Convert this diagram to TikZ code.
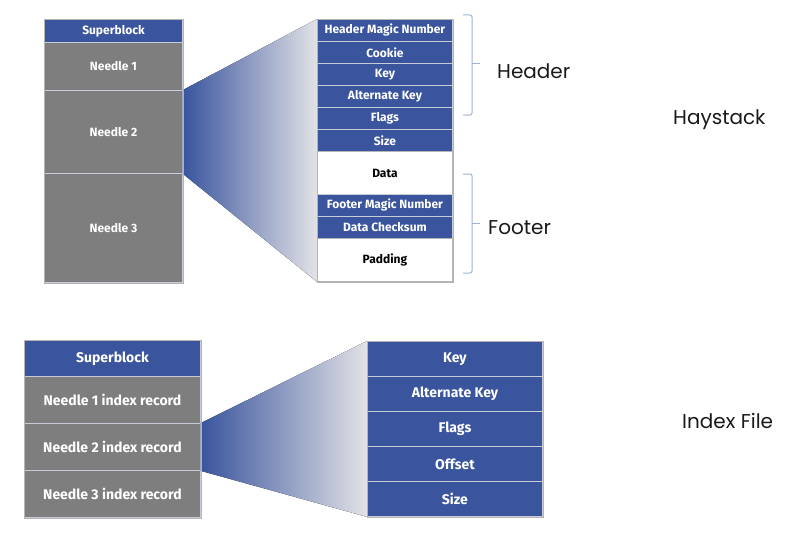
\documentclass[tikz,border=0pt]{standalone}
\usepackage{fontspec}
\setmainfont{Fira Sans}
\newfontfamily\labelfont{Poppins}
\definecolor{hsblue}{HTML}{3A559E}
\definecolor{hsgray}{HTML}{7E7E7E}
\definecolor{hsborder}{HTML}{B4B4B4}
\definecolor{hsdiv}{HTML}{C8CCD8}
\definecolor{fanlight}{HTML}{E2E2E6}
\definecolor{bracecol}{HTML}{9FB3CF}
\definecolor{labelcol}{HTML}{1A1A1A}
\tikzset{
  cellbase/.style={anchor=north west, inner sep=0pt, draw=hsdiv, line width=0.9pt, align=center},
  bluecell/.style={cellbase, fill=hsblue, text=white, font=\bfseries\fontsize{12}{14}\selectfont},
  graycell/.style={cellbase, fill=hsgray, text=white, font=\bfseries\fontsize{12}{14}\selectfont},
  whitecell/.style={cellbase, fill=white, draw=hsborder, text=black, font=\bfseries\fontsize{12}{14}\selectfont},
  bigblue/.style={bluecell, font=\bfseries\fontsize{14}{16}\selectfont},
  biggray/.style={graycell, font=\bfseries\fontsize{14}{16}\selectfont},
  outline/.style={draw=hsborder, line width=0.8pt},
  bracepath/.style={draw=bracecol, line width=1pt, rounded corners=2pt},
  sidelabel/.style={font=\labelfont\fontsize{20}{22}\selectfont, text=labelcol, inner sep=0pt},
}
\begin{document}
\begin{tikzpicture}[x=1pt, y=-1pt]
\useasboundingbox (0,0) rectangle (795,535);

% ---------- Haystack: left stack ----------
\node[bluecell, minimum width=138pt, minimum height=23pt] (sb) at (44,19) {Superblock};
\node[graycell, minimum width=138pt, minimum height=48pt] (n1) at (44,42) {Needle 1};
\node[graycell, minimum width=138pt, minimum height=83pt] (n2) at (44,90) {Needle 2};
\node[graycell, minimum width=138pt, minimum height=109pt] (n3) at (44,173) {Needle 3};

% ---------- Haystack: right stack ----------
\node[bluecell, minimum width=135pt, minimum height=22pt] (hmn) at (317,19) {Header Magic Number};
\node[bluecell, minimum width=135pt, minimum height=22pt] (ck) at (317,41) {Cookie};
\node[bluecell, minimum width=135pt, minimum height=22pt] (ky) at (317,63) {Key};
\node[bluecell, minimum width=135pt, minimum height=22pt] (ak) at (317,85) {Alternate Key};
\node[bluecell, minimum width=135pt, minimum height=22pt] (fl) at (317,107) {Flags};
\node[bluecell, minimum width=135pt, minimum height=22pt] (sz) at (317,129) {Size};
\node[whitecell, minimum width=135pt, minimum height=43pt] (dt) at (317,151) {Data};
\node[bluecell, minimum width=135pt, minimum height=22pt] (fmn) at (317,194) {Footer Magic Number};
\node[bluecell, minimum width=135pt, minimum height=22pt] (dc) at (317,216) {Data Checksum};
\node[whitecell, minimum width=135pt, minimum height=43pt] (pd) at (317,238) {Padding};

% fan (top)
\fill[left color=hsblue, right color=fanlight]
  (n2.north east) -- (hmn.north west) -- (pd.south west) -- (n2.south east) -- cycle;
\draw[outline] (sb.north west) rectangle (n3.south east);
\draw[outline] (hmn.north west) rectangle (pd.south east);

% braces
\coordinate (hbt) at (463,15);
\coordinate (hbb) at (463,115);
\coordinate (hbm) at (472,64);
\coordinate (hbtip) at (480,64);
\draw[bracepath] (hbt) -- (472,15) -- (hbm) -- (472,115) -- (hbb);
\draw[draw=bracecol, line width=1pt] (hbm) -- (hbtip);

\coordinate (fbt) at (463,174);
\coordinate (fbb) at (463,273);
\coordinate (fbm) at (472,223);
\coordinate (fbtip) at (480,223);
\draw[bracepath] (fbt) -- (472,174) -- (fbm) -- (472,273) -- (fbb);
\draw[draw=bracecol, line width=1pt] (fbm) -- (fbtip);

\node[sidelabel, anchor=west] (hl) at (497,71) {Header};
\node[sidelabel, anchor=west] (fl2) at (488,228) {Footer};
\node[sidelabel, anchor=west] (hs) at (673,120) {Haystack};

% ---------- Index file ----------
\node[bigblue, minimum width=176pt, minimum height=36pt] (isb) at (24,340) {Superblock};
\node[biggray, minimum width=176pt, minimum height=47pt] (ir1) at (24,376) {Needle 1 index record};
\node[biggray, minimum width=176pt, minimum height=47pt] (ir2) at (24,423) {Needle 2 index record};
\node[biggray, minimum width=176pt, minimum height=47pt] (ir3) at (24,470) {Needle 3 index record};

\node[bigblue, minimum width=175pt, minimum height=35pt] (ik) at (367,341) {Key};
\node[bigblue, minimum width=175pt, minimum height=35pt] (iak) at (367,376) {Alternate Key};
\node[bigblue, minimum width=175pt, minimum height=35pt] (ifl) at (367,411) {Flags};
\node[bigblue, minimum width=175pt, minimum height=35pt] (iof) at (367,446) {Offset};
\node[bigblue, minimum width=175pt, minimum height=35pt] (isz) at (367,481) {Size};

\fill[left color=hsblue, right color=fanlight]
  (ir2.north east) -- (ik.north west) -- (isz.south west) -- (ir2.south east) -- cycle;
\draw[outline] (isb.north west) rectangle (ir3.south east);
\draw[outline] (ik.north west) rectangle (isz.south east);

\node[sidelabel, anchor=west] (ixf) at (682,421) {Index File};
\end{tikzpicture}
\end{document}
